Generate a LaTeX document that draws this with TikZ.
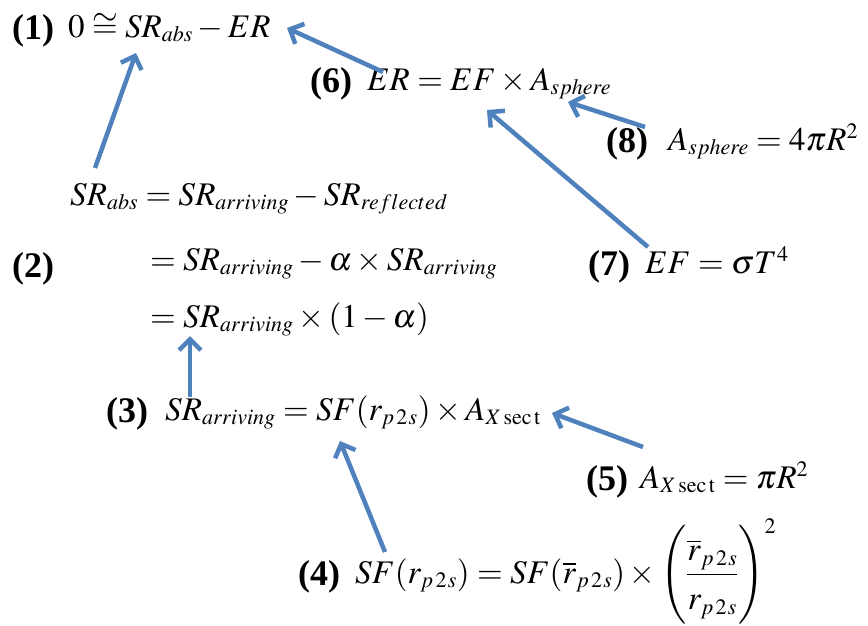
\documentclass[tikz,border=0pt]{standalone}
\usepackage{amsmath}
\usepackage{mathptmx}
\usepackage[no-math]{fontspec}
\setmainfont{Liberation Serif}
\newfontfamily\tagfont{Liberation Serif}
\DeclareMathSizes{33}{33}{22}{15}
\newcommand{\ptwos}{p\mkern2mu2\mkern1mu s}
\usepackage{tikz}
\usetikzlibrary{arrows.meta, positioning, calc}
\definecolor{linkblue}{HTML}{4F81BD}
\tikzset{
    tag/.style={anchor=base west, inner sep=0pt, font=\fontsize{36}{40}\tagfont\bfseries},
    eqn/.style={anchor=base west, inner sep=0pt, font=\fontsize{33}{38}\selectfont},
    link/.style={-{Straight Barb[length=11pt, width=22pt]}, line width=4.5pt, draw=linkblue}
}

\begin{document}
\begin{tikzpicture}[x=1pt, y=-1pt]
    \useasboundingbox (0,0) rectangle (868,625);
    % equations
    \node[tag] (lab1) at (12,39) {(1)};
    \node[eqn] (eq1) at (68,37) {$0\cong SR_{abs}-ER$};
    \node[tag] (lab6) at (310,92) {(6)};
    \node[eqn] (eq6) at (367,90) {$ER=EF\times A_{sphere}$};
    \node[tag] (lab8) at (606,152) {(8)};
    \node[eqn] (eq8) at (668,150) {$A_{sphere}=4\pi R^{2}$};
    \node[eqn] (eq2a) at (70,205) {$SR_{abs}=SR_{arriving}-SR_{reflected}$};
    \node[tag] (lab2) at (12,277) {(2)};
    \node[eqn] (eq2b) at (150,270) {$=SR_{arriving}-\alpha\times SR_{arriving}$};
    \node[eqn] (eq2c) at (150,327) {$=SR_{arriving}\times\left(1-\alpha\right)$};
    \node[tag] (lab7) at (588,275) {(7)};
    \node[eqn] (eq7) at (645,273) {$EF=\sigma T^{4}$};
    \node[tag] (lab3) at (106,422) {(3)};
    \node[eqn] (eq3) at (165,420) {$SR_{arriving}=SF(r_{\ptwos})\times A_{X\sec\mathrm{t}}$};
    \node[tag] (lab5) at (586,490) {(5)};
    \node[eqn] (eq5) at (640,488) {$A_{X\sec\mathrm{t}}=\pi R^{2}$};
    \node[tag] (lab4) at (298,585) {(4)};
    \node[eqn] (eq4) at (355,583) {$SF(r_{\ptwos})=SF(\overline{r}_{\ptwos})\times\left(\dfrac{\overline{r}_{\ptwos}\rule[-10pt]{0pt}{10pt}}{\rule{0pt}{30pt}r_{\ptwos}}\right)^{2}$};
    % arrow ends
    \coordinate (t61) at (383,72);  \coordinate (h61) at (287,28);
    \coordinate (t86) at (645,127); \coordinate (h86) at (568,102);
    \coordinate (t21) at (95,168);  \coordinate (h21) at (136,53);
    \coordinate (t76) at (648,247); \coordinate (h76) at (487,110);
    \coordinate (t32) at (190,397); \coordinate (h32) at (190,336);
    \coordinate (t53) at (643,447); \coordinate (h53) at (552,413);
    \coordinate (t43) at (385,552); \coordinate (h43) at (340,441);
    \draw[link] (t61) -- (h61);
    \draw[link] (t86) -- (h86);
    \draw[link] (t21) -- (h21);
    \draw[link] (t76) -- (h76);
    \draw[link] (t32) -- (h32);
    \draw[link] (t53) -- (h53);
    \draw[link] (t43) -- (h43);
\end{tikzpicture}
\end{document}
